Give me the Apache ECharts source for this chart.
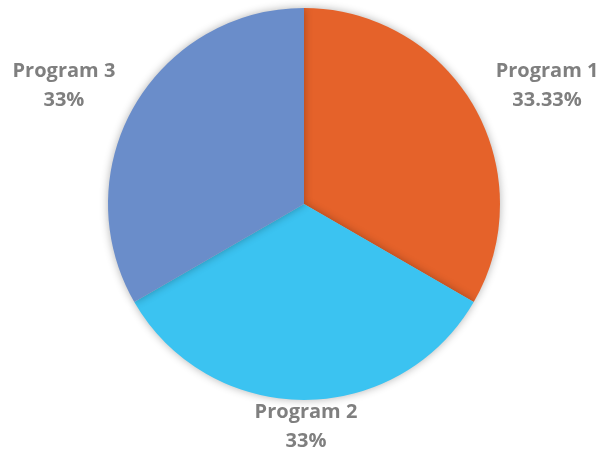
<!DOCTYPE html>
<html><head><meta charset="utf-8">
<script src="https://cdn.jsdelivr.net/npm/echarts@6/dist/echarts.min.js"></script>
<style>html,body{margin:0;padding:0;background:#fff}#c{width:599px;height:449px}</style>
</head><body><div id="c"></div>
<script>
var categories = ['Program 1', 'Program 2', 'Program 3'];
var values = [33.33, 33.33, 33.33];
var percentLabels = ['33.33%', '33%', '33%'];
var colors = ['#E5622A', '#3BC3F1', '#6A8DCA'];

var labelShift = [[51, -10], [-3, 8], [-48, -10]];

var chart = echarts.init(document.getElementById('c'));
chart.setOption({
  animation: false,
  series: [{
    type: 'pie',
    center: [304, 204],
    radius: 196,
    startAngle: 90,
    clockwise: true,
    data: categories.map(function (c, i) {
      return { name: c, value: values[i], itemStyle: { color: colors[i] } };
    }),
    itemStyle: { shadowBlur: 8, shadowColor: 'rgba(0,0,0,0.3)', borderWidth: 0 },
    label: {
      show: true,
      position: 'outside',
      overflow: 'none',
      formatter: function (p) { return p.name + '\n' + percentLabels[p.dataIndex]; },
      fontFamily: 'Open Sans',
      fontWeight: 'bold',
      fontSize: 20,
      lineHeight: 29,
      color: '#7F7F7F',
      align: 'center'
    },
    labelLine: { show: false, length: 20, length2: 0 },
    labelLayout: function (p) {
      var s = labelShift[p.dataIndex];
      return { align: 'center', verticalAlign: 'middle', dx: s[0], dy: s[1] };
    },
    emphasis: { disabled: true }
  }]
});
</script></body></html>
